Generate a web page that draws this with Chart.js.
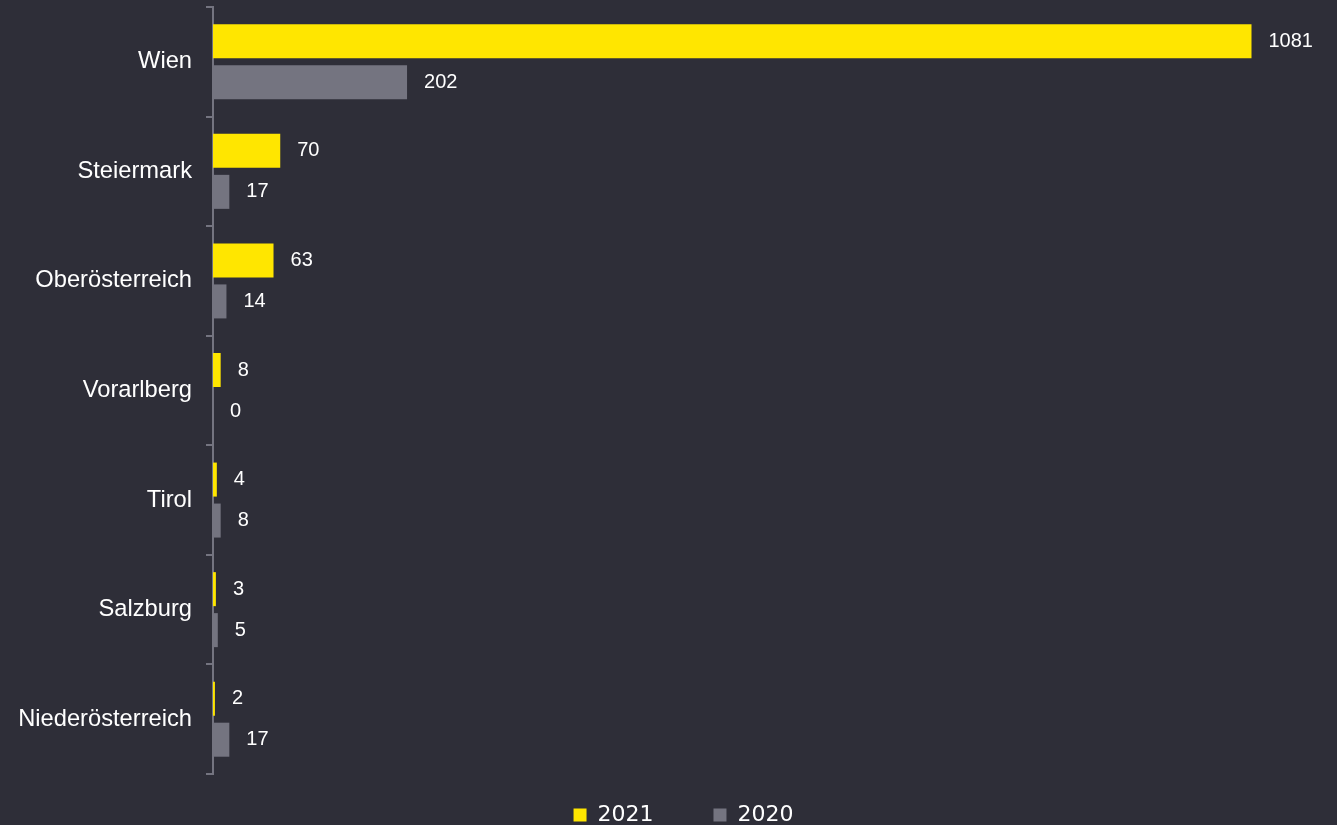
<!DOCTYPE html>
<html>
<head>
<meta charset="utf-8">
<script src="https://cdn.jsdelivr.net/npm/chart.js@4/dist/chart.umd.min.js"></script>
<style>
  html, body { margin: 0; padding: 0; background: #2e2e38; }
  #wrap { width: 1337px; height: 825px; }
</style>
</head>
<body>
<div id="wrap"><canvas id="regions"></canvas></div>
<script>
const regions = ["Wien", "Steiermark", "Oberösterreich", "Vorarlberg", "Tirol", "Salzburg", "Niederösterreich"];
const values2021 = [1081, 70, 63, 8, 4, 3, 2];
const values2020 = [202, 17, 14, 0, 8, 5, 17];
const seriesLabels = ["2021", "2020"];

const yellow = "#ffe600";
const grey = "#747480";

// value labels right of each bar
const valueLabels = {
  id: "valueLabels",
  afterDatasetsDraw(chart) {
    const ctx = chart.ctx;
    ctx.save();
    ctx.font = "20px Arial, 'Liberation Sans'";
    ctx.fillStyle = "#ffffff";
    ctx.textAlign = "left";
    ctx.textBaseline = "middle";
    chart.data.datasets.forEach((ds, i) => {
      chart.getDatasetMeta(i).data.forEach((bar, j) => {
        ctx.fillText(String(ds.data[j]), bar.x + 17, bar.y);
      });
    });
    ctx.restore();
  }
};

new Chart(document.getElementById("regions"), {
  type: "bar",
  data: {
    labels: regions,
    datasets: [
      { label: seriesLabels[0] + "       ", data: values2021, backgroundColor: yellow },
      { label: seriesLabels[1], data: values2020, backgroundColor: grey }
    ]
  },
  options: {
    indexAxis: "y",
    responsive: true,
    maintainAspectRatio: false,
    animation: false,
    categoryPercentage: 0.748,
    barPercentage: 0.83,
    layout: { padding: { top: 7, left: 15, right: -15, bottom: 0 } },
    scales: {
      x: {
        min: 0,
        max: 1170,
        grid: { display: false },
        border: { display: false },
        ticks: { display: false },
        afterFit(scale) { scale.height = 19; }
      },
      y: {
        grid: {
          display: true,
          drawOnChartArea: false,
          drawTicks: true,
          tickLength: 7,
          offset: true,
          color: grey,
          lineWidth: 2
        },
        border: { display: true, color: grey, width: 2 },
        ticks: {
          color: "#ffffff",
          padding: 14,
          font: { family: "Arial, 'Liberation Sans'", size: 23.7 }
        },
        afterFit(scale) {
          scale.width = 198;
          scale.paddingTop = 0;
          scale.paddingBottom = 0;
        }
      }
    },
    plugins: {
      tooltip: { enabled: false },
      legend: {
        position: "bottom",
        maxHeight: 32,
        labels: {
          color: "#ffffff",
          boxWidth: 13,
          boxHeight: 13,
          padding: 11,
          font: { family: "'DejaVu Sans', Verdana", size: 22 }
        }
      }
    }
  },
  plugins: [valueLabels]
});
</script>
</body>
</html>
